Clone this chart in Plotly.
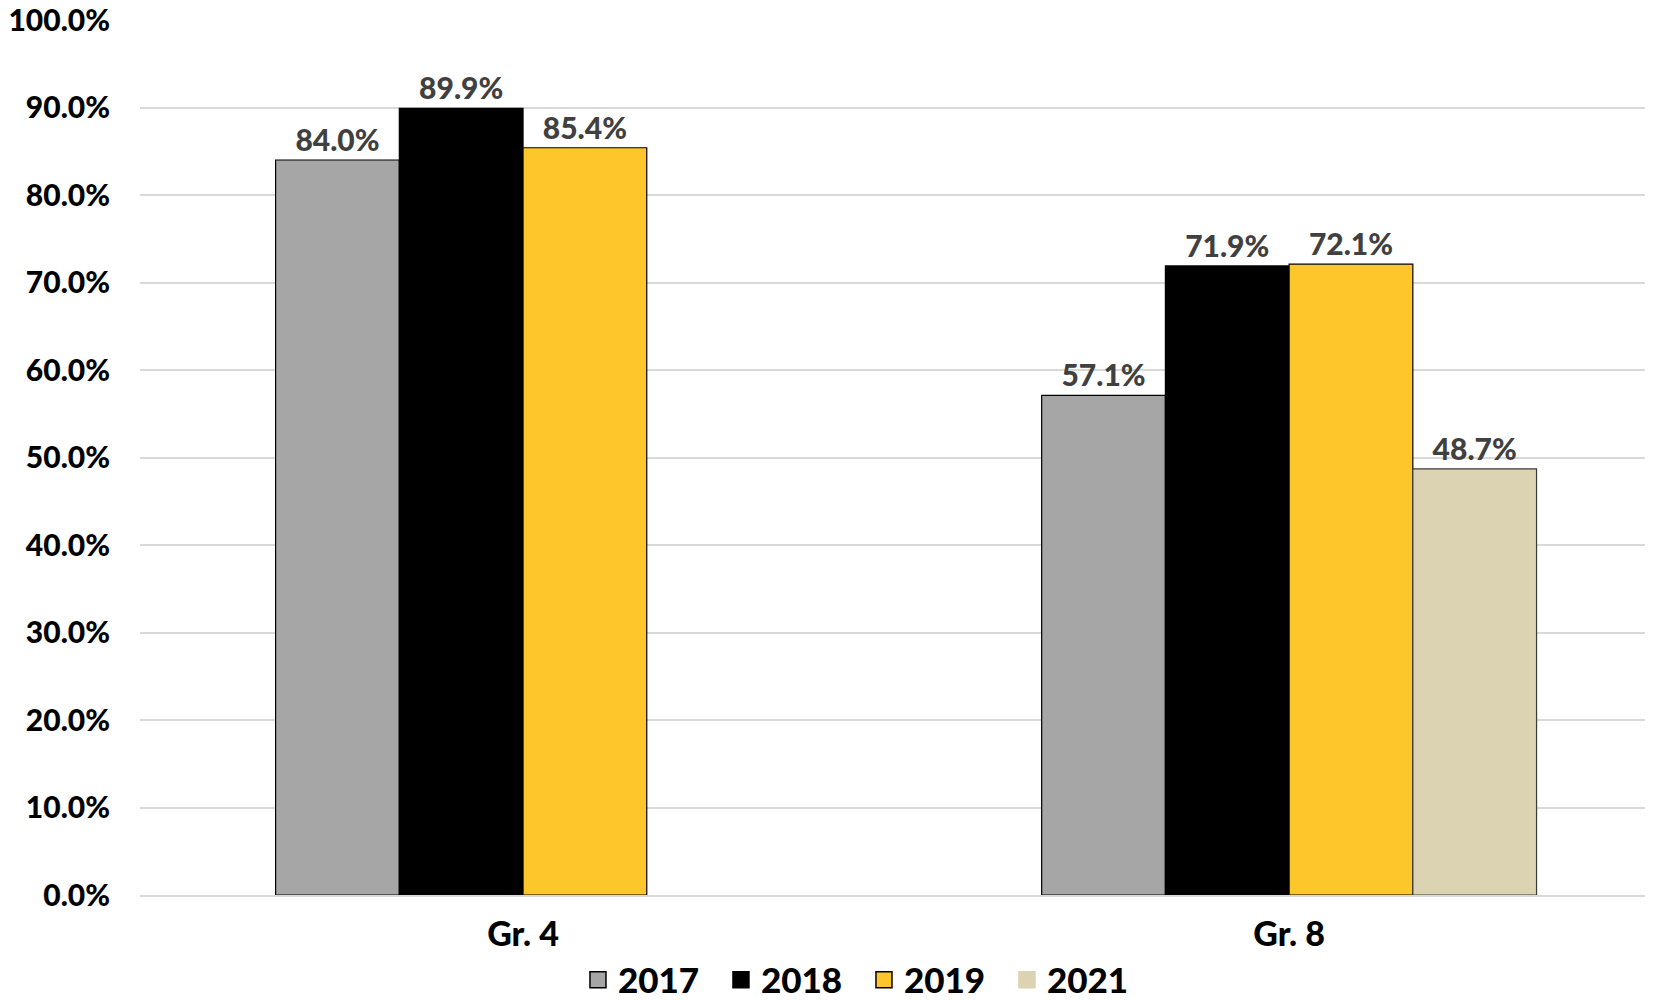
import plotly.graph_objects as go

categories = ["Gr. 4", "Gr. 8"]
years = ["2017", "2018", "2019", "2021"]
values_2017 = [84.0, 57.1]
values_2018 = [89.9, 71.9]
values_2019 = [85.4, 72.1]
values_2021 = [None, 48.7]
y_ticks = [0, 10, 20, 30, 40, 50, 60, 70, 80, 90, 100]

series = [values_2017, values_2018, values_2019, values_2021]
colors = ["#a6a6a6", "#000000", "#fdc62a", "#dbd3b2"]
line_colors = ["#000000", "#000000", "#000000", "#3a3a3a"]
legend_line_colors = ["#000000", "#000000", "#000000", "#dbd3b2"]

FONT = "Lato"

fig = go.Figure()
for yr, vals, c, lc in zip(years, series, colors, line_colors):
    fig.add_trace(go.Bar(
        x=categories, y=vals, name=yr, showlegend=False,
        marker=dict(color=c, line=dict(color=lc, width=1.2)),
        text=[None if v is None else f"{v:.1f}%" for v in vals],
        textposition="outside",
        textfont=dict(family=FONT, size=30, color="#404040", weight=900),
        cliponaxis=False,
    ))
# legend entries with square swatches
for yr, c, lc in zip(years, colors, legend_line_colors):
    fig.add_trace(go.Scatter(
        x=[None], y=[None], mode="markers", name=yr,
        marker=dict(symbol="square", size=21, color=c, line=dict(color=lc, width=1.5)),
    ))

fig.update_layout(
    width=1645, height=992,
    barmode="group", bargap=0.354, bargroupgap=0,
    plot_bgcolor="white", paper_bgcolor="white",
    margin=dict(l=132, r=0, t=12, b=105, autoexpand=False),
    font=dict(family=FONT, color="#000000"),
    showlegend=True,
    legend=dict(orientation="h", x=0.4785, xanchor="center", y=-0.097, yanchor="middle",
                font=dict(family=FONT, size=35, color="#000000", weight=900),
                itemwidth=30, entrywidth=98, entrywidthmode="pixels",
                traceorder="normal", tracegroupgap=0),
)
fig.update_yaxes(
    range=[0, 100], tickvals=y_ticks,
    ticktext=[f"{t:.1f}%" for t in y_ticks],
    showgrid=True, gridcolor="#d9d9d9", gridwidth=2,
    zeroline=False, showline=False, automargin=False,
    ticklabeloverflow="allow",
    tickfont=dict(family=FONT, size=30, color="#000000", weight=900),
    ticklabelstandoff=29,
)
fig.update_xaxes(
    range=[-0.5, 1.475], automargin=False,
    showline=True, linecolor="#d9d9d9", linewidth=2,
    tickfont=dict(family=FONT, size=34, color="#000000", weight=900),
    ticks="", ticklabelstandoff=8,
)

fig.write_html("out.html")
